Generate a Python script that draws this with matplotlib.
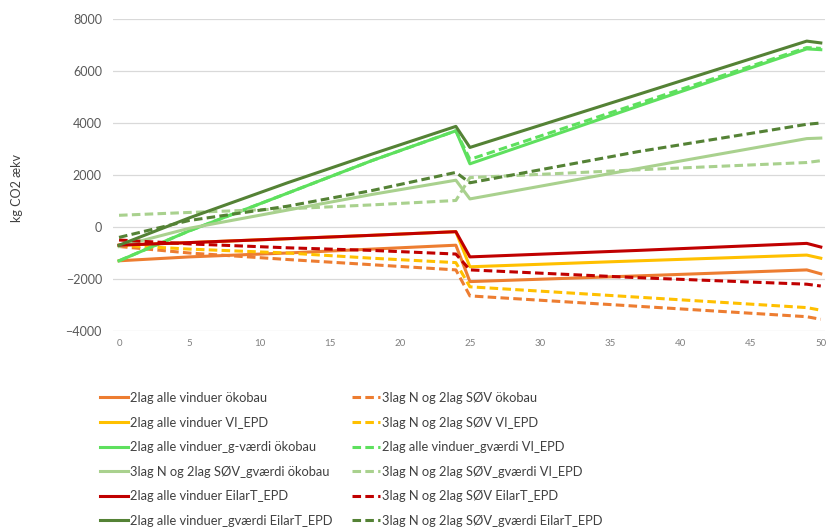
import matplotlib.pyplot as plt

plt.rcParams['font.family'] = ['Lato', 'DejaVu Sans']

years = [0, 5, 12, 18, 24, 25, 37, 49, 50]

# solid series
oko_2lag = [-1300, -1150, -1000, -850, -700, -2100, -1880, -1650, -1800]
vi_2lag = [-700, -600, -450, -320, -180, -1530, -1300, -1080, -1200]
gv_oko_2lag = [-1300, -150, 1300, 2550, 3700, 2430, 4650, 6850, 6820]
gv_oko_3lag = [-750, -50, 650, 1250, 1800, 1080, 2250, 3400, 3420]
eilar_2lag = [-700, -600, -450, -320, -180, -1150, -900, -630, -770]
gv_eilar_2lag = [-700, 350, 1700, 2800, 3870, 3060, 5100, 7150, 7080]

# dashed series
oko_3lag = [-750, -1000, -1250, -1450, -1650, -2650, -3050, -3450, -3550]
vi_3lag = [-700, -850, -1000, -1200, -1370, -2300, -2700, -3100, -3200]
gv_vi_2lag = [-1300, -150, 1300, 2550, 3700, 2600, 4750, 6900, 6870]
gv_vi_3lag = [450, 560, 700, 850, 1020, 1900, 2200, 2480, 2550]
eilar_3lag = [-500, -650, -800, -900, -1040, -1650, -1950, -2200, -2270]
gv_eilar_3lag = [-400, 250, 800, 1400, 2100, 1700, 2900, 3950, 4000]

# (label, values, colour, dashed) in Excel series order
series = [
    ('2lag alle vinduer ökobau', oko_2lag, '#ED7D31', False),
    ('3lag N og 2lag SØV ökobau', oko_3lag, '#ED7D31', True),
    ('2lag alle vinduer VI_EPD', vi_2lag, '#FFC000', False),
    ('3lag N og 2lag SØV VI_EPD', vi_3lag, '#FFC000', True),
    ('2lag alle vinduer_g-værdi ökobau', gv_oko_2lag, '#5EE05E', False),
    ('2lag alle vinduer_gværdi VI_EPD', gv_vi_2lag, '#5EE05E', True),
    ('3lag N og 2lag SØV_gværdi ökobau', gv_oko_3lag, '#A9D18E', False),
    ('3lag N og 2lag SØV_gværdi VI_EPD', gv_vi_3lag, '#A9D18E', True),
    ('2lag alle vinduer EilarT_EPD', eilar_2lag, '#C00000', False),
    ('3lag N og 2lag SØV EilarT_EPD', eilar_3lag, '#C00000', True),
    ('2lag alle vinduer_gværdi EilarT_EPD', gv_eilar_2lag, '#548235', False),
    ('3lag N og 2lag SØV_gværdi EilarT_EPD', gv_eilar_3lag, '#548235', True),
]

fig = plt.figure(figsize=(8.3, 5.28), dpi=100)
ax = fig.add_axes([113 / 830, 1 - 331 / 528, 712 / 830, 312 / 528])

solid_h, dash_h = [], []
for label, vals, col, dashed in series:
    if dashed:
        ln, = ax.plot(years, vals, color=col, lw=2.2, dashes=(2.8, 1.4), label=label)
        dash_h.append(ln)
    else:
        ln, = ax.plot(years, vals, color=col, lw=2.2, label=label)
        solid_h.append(ln)

ax.set_xlim(-0.43, 50.3)
ax.set_ylim(-4000, 8000)
ax.set_yticks(range(-4000, 8001, 2000))
ax.set_xticks(range(0, 51, 5))
ax.grid(axis='y', color='#d9d9d9', lw=0.9)
ax.set_axisbelow(True)
for s in ax.spines.values():
    s.set_visible(False)
ax.tick_params(length=0)
ax.tick_params(axis='y', labelsize=9, labelcolor='#595959', pad=8)
ax.tick_params(axis='x', labelsize=7, labelcolor='#7f7f7f', pad=6)

fig.text(17 / 830, 1 - 188 / 528, 'kg CO2 ækv', rotation=90, ha='center', va='center',
         fontsize=9, color='#404040')

# two legend columns placed separately
leg_kw = dict(loc='upper left', frameon=False, fontsize=9.3, labelcolor='#404040',
              handlelength=2.2, handletextpad=0.15, labelspacing=0.97,
              borderaxespad=0, borderpad=0)
for hs, x0 in [(solid_h, 100), (dash_h, 352)]:
    fig.legend(handles=hs, labels=[h.get_label() for h in hs],
               bbox_to_anchor=(x0 / 830, 1 - 392 / 528), **leg_kw)

fig.savefig('out.png', dpi=100)
